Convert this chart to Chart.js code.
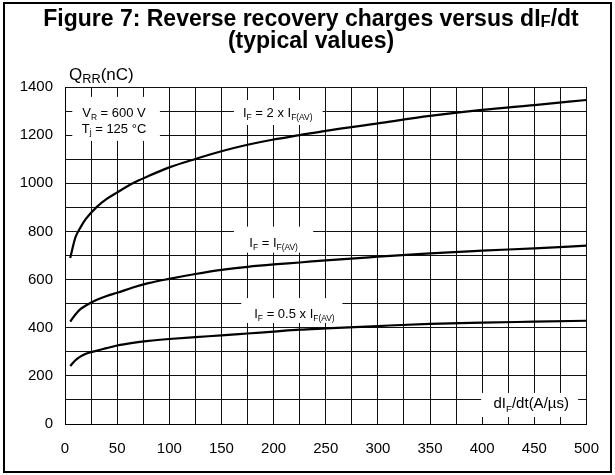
<!DOCTYPE html>
<html>
<head>
<meta charset="utf-8">
<script src="https://cdn.jsdelivr.net/npm/chart.js@4/dist/chart.umd.min.js"></script>
<style>
  body { margin: 0; background: #fff; }
  canvas { display: block; }
</style>
</head>
<body>
<canvas id="qrrChart" width="615" height="475"></canvas>
<script>
// dIF/dt (A/us) sample points
var dIdt = [5, 10, 15, 20, 30, 40, 50, 65, 80, 100, 125, 150, 175, 200, 225, 250, 300, 350, 400, 450, 500];

// QRR (nC) for each forward current
var qrrIf2x = [690, 775, 818, 852, 900, 935, 962, 1000, 1030, 1066, 1101, 1133, 1160, 1182, 1200, 1218, 1249, 1280, 1305, 1325, 1346];
var qrrIf1x = [425, 455, 478, 492, 515, 532, 545, 567, 585, 603, 623, 640, 653, 663, 671, 680, 695, 709, 720, 730, 741];
var qrrIf05x = [241, 265, 281, 292, 304, 315, 326, 337, 345, 353, 361, 368, 376, 384, 392, 397, 407, 416, 421, 425, 429];

var xTicks = [0, 50, 100, 150, 200, 250, 300, 350, 400, 450, 500];
var yTicks = [0, 200, 400, 600, 800, 1000, 1200, 1400];

var FONT = "Arial, 'Liberation Sans', sans-serif";

function toPoints(xs, ys) {
    return xs.map(function(x, i) {
        return { x: x, y: ys[i] };
    });
}

function curve(label, ys) {
    return {
        label: label,
        data: toPoints(dIdt, ys),
        borderColor: '#000',
        borderWidth: 2.2,
        pointRadius: 0,
        cubicInterpolationMode: 'monotone',
        fill: false
    };
}

// text made of plain and subscript pieces, centred on cx, baseline at by
function drawRich(ctx, parts, cx, by, size, opts) {
    opts = opts || {};
    var weight = opts.bold ? 'bold ' : '';
    var subScale = opts.subScale || 0.65;
    var subDrop = opts.subDrop || size * 0.22;
    var w = 0;
    parts.forEach(function(p) {
        ctx.font = weight + (p.sub ? size * subScale : size) + 'px ' + FONT;
        w += ctx.measureText(p.t).width;
    });
    var x = opts.left ? cx : cx - w / 2;
    ctx.textBaseline = 'alphabetic';
    ctx.textAlign = 'left';
    ctx.fillStyle = '#000';
    parts.forEach(function(p) {
        ctx.font = weight + (p.sub ? size * subScale : size) + 'px ' + FONT;
        ctx.fillText(p.t, x, by + (p.sub ? subDrop : 0));
        x += ctx.measureText(p.t).width;
    });
}

// white boxes behind the curve labels (data units)
var labelBoxes = [
    { x0: 7, x1: 91, y0: 1176, y1: 1359 },
    { x0: 162, x1: 247, y0: 1242, y1: 1346 },
    { x0: 162, x1: 238, y0: 712, y1: 820 },
    { x0: 169, x1: 266, y0: 420, y1: 523 },
    { x0: 399, x1: 492, y0: 29, y1: 129 }
];

var labelTexts = [
    { x: 47, y: 1296, size: 13, parts: [{ t: 'V' }, { t: 'R', sub: true }, { t: ' = 600 V' }] },
    { x: 47, y: 1230, size: 13, parts: [{ t: 'T' }, { t: 'j', sub: true }, { t: ' = 125 °C' }] },
    { x: 204, y: 1296, size: 13, parts: [{ t: 'I' }, { t: 'F', sub: true }, { t: ' = 2 x I' }, { t: 'F(AV)', sub: true }] },
    { x: 200, y: 753, size: 13, parts: [{ t: 'I' }, { t: 'F', sub: true }, { t: ' = I' }, { t: 'F(AV)', sub: true }] },
    { x: 220, y: 460, size: 13, parts: [{ t: 'I' }, { t: 'F', sub: true }, { t: ' = 0.5 x I' }, { t: 'F(AV)', sub: true }] },
    { x: 447, y: 88, size: 15, parts: [{ t: 'dI' }, { t: 'F', sub: true }, { t: '/dt(A/µs)' }] }
];

var figurePlugin = {
    id: 'figure',
    beforeDatasetsDraw: function(chart) {
        var ctx = chart.ctx, xs = chart.scales.x, ys = chart.scales.y;
        ctx.save();
        ctx.fillStyle = '#fff';
        labelBoxes.forEach(function(b) {
            var l = xs.getPixelForValue(b.x0), r = xs.getPixelForValue(b.x1);
            var t = ys.getPixelForValue(b.y1), btm = ys.getPixelForValue(b.y0);
            ctx.fillRect(l, t, r - l, btm - t);
        });
        ctx.restore();
    },
    afterDatasetsDraw: function(chart) {
        var ctx = chart.ctx, xs = chart.scales.x, ys = chart.scales.y;
        ctx.save();
        labelTexts.forEach(function(lb) {
            drawRich(ctx, lb.parts, xs.getPixelForValue(lb.x), ys.getPixelForValue(lb.y) + lb.size * 0.36, lb.size);
        });
        // axis title above the plot
        drawRich(ctx, [{ t: 'Q' }, { t: 'RR', sub: true }, { t: '(nC)' }],
            chart.chartArea.left + 4, chart.chartArea.top - 7, 17, { left: true, subScale: 0.75, subDrop: 3 });
        ctx.restore();
    },
    afterDraw: function(chart) {
        var ctx = chart.ctx;
        ctx.save();
        // figure title
        drawRich(ctx, [{ t: 'Figure 7: Reverse recovery charges versus dI' }, { t: 'F', sub: true }, { t: '/dt' }],
            311, 26, 23, { bold: true, subScale: 0.72, subDrop: 1 });
        drawRich(ctx, [{ t: '(typical values)' }], 311, 48, 23, { bold: true });
        // frame
        ctx.strokeStyle = '#000';
        ctx.lineWidth = 2;
        ctx.strokeRect(4, 3, 607, 469);
        ctx.restore();
    }
};

var ctx = document.getElementById('qrrChart').getContext('2d');
var qrrChart = new Chart(ctx, {
    type: 'line',
    data: {
        datasets: [
            curve('IF = 2 x IF(AV)', qrrIf2x),
            curve('IF = IF(AV)', qrrIf1x),
            curve('IF = 0.5 x IF(AV)', qrrIf05x)
        ]
    },
    options: {
        responsive: false,
        animation: false,
        devicePixelRatio: 1,
        layout: { padding: { left: 0, top: 87, right: 24, bottom: 0 } },
        plugins: {
            legend: { display: false },
            tooltip: { enabled: false }
        },
        scales: {
            x: {
                type: 'linear',
                min: 0,
                max: 500,
                afterFit: function(scale) { scale.height = 51; },
                afterBuildTicks: function(scale) {
                    var t = [];
                    for (var v = 0; v <= 500; v += 25) t.push({ value: v });
                    scale.ticks = t;
                },
                ticks: {
                    autoSkip: false,
                    maxRotation: 0,
                    padding: 16,
                    color: '#000',
                    font: { family: FONT, size: 15 },
                    callback: function(v) { return xTicks.indexOf(v) >= 0 ? String(v) : ''; }
                },
                grid: { color: '#111', lineWidth: 1, drawTicks: false },
                border: { color: '#000', width: 1 }
            },
            y: {
                type: 'linear',
                min: 0,
                max: 1400,
                afterFit: function(scale) { scale.width = 65; },
                afterBuildTicks: function(scale) {
                    var t = [];
                    for (var v = 0; v <= 1400; v += 100) t.push({ value: v });
                    scale.ticks = t;
                },
                ticks: {
                    autoSkip: false,
                    padding: 12,
                    color: '#000',
                    font: { family: FONT, size: 15 },
                    callback: function(v) { return yTicks.indexOf(v) >= 0 ? String(v) : ''; }
                },
                grid: { color: '#111', lineWidth: 1, drawTicks: false },
                border: { color: '#000', width: 1 }
            }
        }
    },
    plugins: [figurePlugin]
});
</script>
</body>
</html>
